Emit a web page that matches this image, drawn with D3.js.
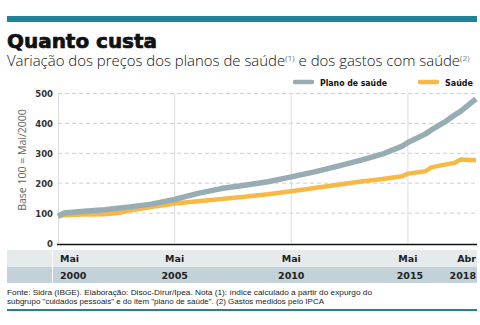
<!DOCTYPE html>
<html><head><meta charset="utf-8">
<script src="https://cdn.jsdelivr.net/npm/d3@7"></script>
<style>html,body{margin:0;padding:0;background:#fff;}svg{display:block;}</style>
</head><body>
<script>
const dates = ["2000-05","2000-08","2001-05","2002-05","2002-12","2003-05","2004-05","2005-05","2006-05","2007-05","2008-05","2009-05","2010-05","2011-05","2012-05","2013-05","2014-05","2015-02","2015-05","2016-02","2016-05","2016-12","2017-05","2017-08","2018-04"];
const planoSaude = [90,100,105,111,116,120,130,146,166,182,193,205,221,238,257,277,300,324,336,365,378,405,428,440,482];
const saude = [88,93,95,96,100,108,120,132,140,147,155,163,173,184,195,206,215,223,232,240,253,262,268,279,277];
const yTicks = [0,100,200,300,400,500];
const xTickDates = ["2000-05","2005-05","2010-05","2015-05","2018-04"];
const xTickMonths = ["Mai","Mai","Mai","Mai","Abr"];
const xTickYears = ["2000","2005","2010","2015","2018"];
const seriesNames = ["Plano de saúde","Saúde"];
const seriesColors = ["#97adb3","#f8b845"];

const W=480,H=325;
const parse = d3.timeParse("%Y-%m");
const svg = d3.select("body").append("svg").attr("width",W).attr("height",H);

// top bar
svg.append("rect").attr("x",7).attr("y",16).attr("width",470).attr("height",6).attr("fill","#1f8398");
// title
svg.append("text").attr("x",7).attr("y",48).attr("font-family","DejaVu Sans").attr("font-weight","bold")
  .attr("font-size",19.5).attr("fill","#111").attr("stroke","#111").attr("stroke-width",0.7)
  .attr("textLength",150).attr("lengthAdjust","spacingAndGlyphs").text("Quanto custa");
// subtitle
const sub = svg.append("text").attr("x",7).attr("y",66).attr("font-family","Open Sans").attr("font-weight",300)
  .attr("font-size",14).attr("fill","#111");
sub.append("tspan").text("Variação dos preços dos planos de saúde");
sub.append("tspan").attr("dy",-5).attr("font-size",8).text("(1)");
sub.append("tspan").attr("dy",5).text(" e dos gastos com saúde");
sub.append("tspan").attr("dy",-5).attr("font-size",8).text("(2)");
(function(){const n=sub.node(); const l=n.getComputedTextLength(); if(l>0){ n.setAttribute("transform",`translate(7,0) scale(${463/l},1) translate(-7,0)`);} })();

// scales
const x = d3.scaleTime().domain([parse("2000-05"),parse("2018-04")]).range([58,476]);
const y = d3.scaleLinear().domain([0,500]).range([243,93.5]);

// horizontal dashed gridlines
svg.append("g").selectAll("line").data(yTicks.filter(d=>d>0)).join("line")
  .attr("x1",58).attr("x2",477).attr("y1",d=>y(d)).attr("y2",d=>y(d))
  .attr("stroke","#cfcfcf").attr("stroke-width",1).attr("stroke-dasharray","4,3");
// vertical gridlines
svg.append("g").selectAll("line").data(xTickDates.slice(1,4)).join("line")
  .attr("x1",d=>x(parse(d))).attr("x2",d=>x(parse(d))).attr("y1",y(500)).attr("y2",y(0))
  .attr("stroke","#dcdcdc").attr("stroke-width",1);
svg.append("line").attr("x1",58.5).attr("x2",58.5).attr("y1",y(500)).attr("y2",y(0)).attr("stroke","#dcdcdc");

// y tick labels
svg.append("g").selectAll("text").data(yTicks).join("text")
  .attr("x",53).attr("y",d=>y(d)+3.5).attr("text-anchor","end")
  .attr("font-family","DejaVu Sans").attr("font-weight","bold").attr("font-size",8.5).attr("fill","#333")
  .text(d=>d);
// y title
svg.append("text").attr("transform","translate(26,160) rotate(-90)").attr("text-anchor","middle")
  .attr("font-family","Open Sans").attr("font-size",10.5).attr("fill","#666").text("Base 100 = Mai/2000");

// lines
const series=[planoSaude,saude];
const widths=[5.5,4.5];
const line = d3.line().x((d,i)=>x(parse(dates[i]))).y(d=>y(d));
[1,0].forEach(k=>{
  svg.append("path").datum(series[k]).attr("d",line).attr("fill","none")
    .attr("stroke",seriesColors[k]).attr("stroke-width",widths[k]).attr("stroke-linejoin","round");
});

// axis baseline
svg.append("line").attr("x1",57).attr("x2",477).attr("y1",244.5).attr("y2",244.5).attr("stroke","#111").attr("stroke-width",1.5);

// x band
svg.append("rect").attr("x",7).attr("y",250).attr("width",470).attr("height",17).attr("fill","#e5ebed");
svg.append("rect").attr("x",7).attr("y",267).attr("width",470).attr("height",16).attr("fill","#c3d2d8");
svg.append("line").attr("x1",52.5).attr("x2",52.5).attr("y1",250).attr("y2",283).attr("stroke","#fff").attr("stroke-width",1);

const anchors = xTickDates.map((d,i)=> i===0?"start":(i===xTickDates.length-1?"end":"middle"));
const xpos = xTickDates.map((d,i)=> i===0? x(parse(d))+2 : x(parse(d)));
const gx = svg.append("g").attr("font-family","DejaVu Sans").attr("font-weight","bold").attr("font-size",9.5).attr("fill","#222");
gx.selectAll("text.m").data(xTickMonths).join("text").attr("class","m")
  .attr("x",(d,i)=>xpos[i]).attr("y",262).attr("text-anchor",(d,i)=>anchors[i]).text(d=>d);
gx.selectAll("text.yy").data(xTickYears).join("text").attr("class","yy")
  .attr("x",(d,i)=>xpos[i]+(i===3?2:0)).attr("y",279).attr("text-anchor",(d,i)=>anchors[i]).text(d=>d);

// legend
const legX=[293,418], legTX=[320,445];
seriesNames.forEach((n,i)=>{
  svg.append("line").attr("x1",legX[i]+2).attr("x2",legX[i]+19).attr("y1",82).attr("y2",82)
    .attr("stroke",seriesColors[i]).attr("stroke-width",4.5).attr("stroke-linecap","round");
  svg.append("text").attr("x",legTX[i]).attr("y",85.5).attr("font-family","DejaVu Sans").attr("font-weight","bold")
    .attr("font-size",9).attr("fill","#111").attr("textLength",i===0?67:28).attr("lengthAdjust","spacingAndGlyphs").text(n);
});

// footer
const foot = ["Fonte: Sidra (IBGE). Elaboração: Disoc-Dirur/Ipea. Nota (1): índice calculado a partir do expurgo do",
  "subgrupo \"cuidados pessoais\" e do item \"plano de saúde\". (2) Gastos medidos pelo IPCA"];
const footLen=[365,317];
foot.forEach((t,i)=>{
  svg.append("text").attr("x",7).attr("y",295+i*9).attr("font-family","Liberation Sans Narrow, Liberation Sans").attr("font-size",7.8)
    .attr("fill","#222").attr("textLength",footLen[i]).attr("lengthAdjust","spacingAndGlyphs").text(t);
});
svg.append("rect").attr("x",7).attr("y",309).attr("width",470).attr("height",2).attr("fill","#1f8398");
</script>
</body></html>
